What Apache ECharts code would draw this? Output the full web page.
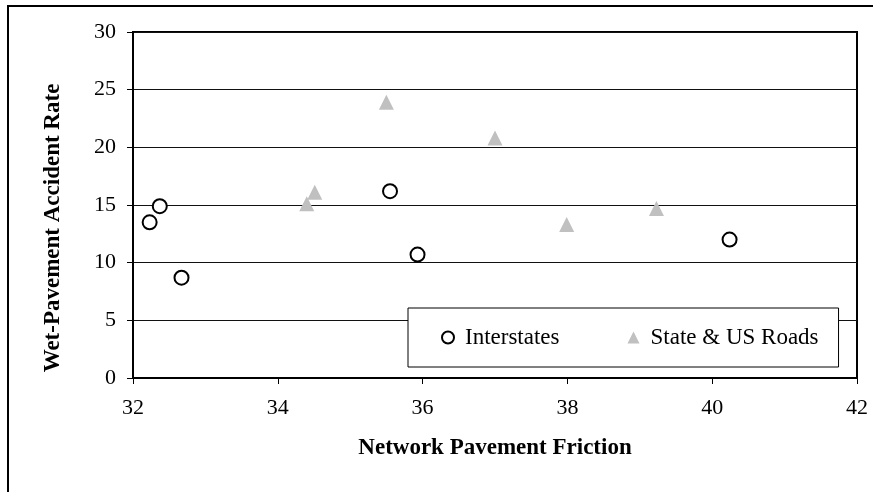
<!DOCTYPE html>
<html>
<head>
<meta charset="utf-8">
<script src="https://cdn.jsdelivr.net/npm/echarts@6/dist/echarts.min.js"></script>
<style>
html,body{margin:0;padding:0;background:#fff;}
#c{width:873px;height:492px;}
</style>
</head>
<body>
<div id="c"></div>
<script>
const xTicks = [32, 34, 36, 38, 40, 42];
const yTicks = [0, 5, 10, 15, 20, 25, 30];
const interstatesX = [32.23, 32.37, 32.67, 35.55, 35.93, 40.24];
const interstatesY = [13.5, 14.9, 8.7, 16.2, 10.7, 12.0];
const stateX = [34.40, 34.51, 35.50, 37.00, 37.99, 39.23];
const stateY = [15.1, 16.1, 23.9, 20.8, 13.3, 14.7];
const seriesNames = ['Interstates', 'State & US Roads'];
const xTitle = 'Network Pavement Friction';
const yTitle = 'Wet-Pavement Accident Rate';

const font = '"Liberation Serif", "Times New Roman", serif';
const chart = echarts.init(document.getElementById('c'), null, {renderer: 'canvas'});
chart.setOption({
  animation: false,
  backgroundColor: '#fff',
  grid: {left: 133, top: 32, right: 16, bottom: 114, show: true, borderColor: '#000', borderWidth: 2, backgroundColor: 'transparent'},
  xAxis: {
    type: 'value', min: xTicks[0], max: xTicks[xTicks.length - 1], interval: 2,
    axisLine: {show: true, lineStyle: {color: '#000', width: 2}},
    axisTick: {show: true, inside: false, length: 6, lineStyle: {color: '#000', width: 1}},
    axisLabel: {color: '#000', fontFamily: font, fontSize: 22, margin: 19},
    splitLine: {show: false}
  },
  yAxis: {
    type: 'value', min: yTicks[0], max: yTicks[yTicks.length - 1], interval: 5,
    axisLine: {show: true, lineStyle: {color: '#000', width: 2}},
    axisTick: {show: true, inside: false, length: 6, lineStyle: {color: '#000', width: 1}},
    axisLabel: {color: '#000', fontFamily: font, fontSize: 22, margin: 17},
    splitLine: {show: true, lineStyle: {color: '#111', width: 1}}
  },
  legend: {
    left: 408, top: 308,
    orient: 'horizontal',
    backgroundColor: '#fff', borderColor: '#000', borderWidth: 1,
    padding: [18, 20, 18, 33],
    itemGap: 68, itemWidth: 12, itemHeight: 12,
    textStyle: {color: '#000', fontFamily: font, fontSize: 23, padding: [0, 0, 0, 6]},
    data: [
      {name: seriesNames[0], icon: 'circle', itemStyle: {color: '#fff', borderColor: '#000', borderWidth: 2}},
      {name: seriesNames[1], icon: 'triangle', itemStyle: {color: '#c0c0c0', borderWidth: 0}}
    ]
  },
  graphic: [
    {type: 'rect', silent: true, z: 100, shape: {x: 8, y: 6, width: 1000, height: 1000}, style: {fill: 'none', stroke: '#000', lineWidth: 2}},
    {type: 'text', x: 495, y: 448, style: {text: xTitle, font: 'bold 23px ' + font, fill: '#000', align: 'center', verticalAlign: 'middle'}},
    {type: 'text', x: 53, y: 228, rotation: Math.PI / 2, style: {text: yTitle, font: 'bold 23px ' + font, fill: '#000', align: 'center', verticalAlign: 'middle'}}
  ],
  series: [
    {
      name: seriesNames[0], type: 'scatter', symbol: 'circle', symbolSize: 14,
      itemStyle: {color: '#fff', borderColor: '#000', borderWidth: 2, opacity: 1},
      data: interstatesX.map((x, i) => [x, interstatesY[i]]), z: 3
    },
    {
      name: seriesNames[1], type: 'scatter', symbol: 'triangle', symbolSize: 15,
      itemStyle: {color: '#c0c0c0', opacity: 1},
      data: stateX.map((x, i) => [x, stateY[i]]), z: 3
    }
  ]
});
</script>
</body>
</html>
